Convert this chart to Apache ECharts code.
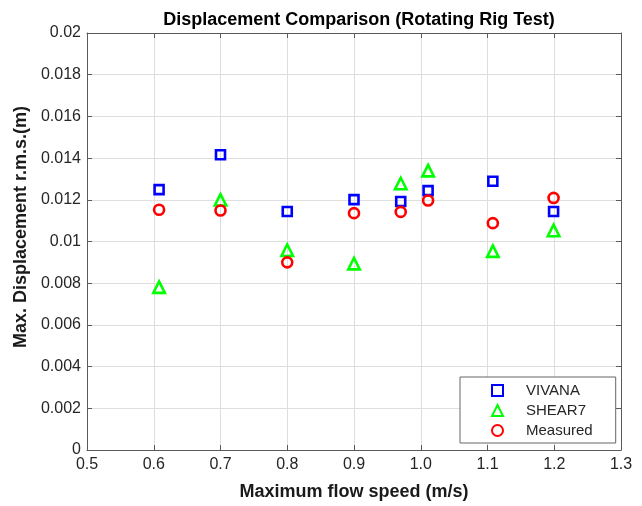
<!DOCTYPE html>
<html>
<head>
<meta charset="utf-8">
<script src="https://cdn.jsdelivr.net/npm/echarts@6/dist/echarts.min.js"></script>
<style>
  html, body { margin: 0; padding: 0; background: #fff; }
  #chart { width: 642px; height: 506px; }
</style>
</head>
<body>
<div id="chart"></div>
<script>
// Flow speeds (m/s) for each test case
const speeds = [0.608, 0.70, 0.80, 0.90, 0.97, 1.011, 1.108, 1.199];

// Max. r.m.s. displacement (m) per method
const vivana   = [0.01249, 0.01416, 0.01144, 0.01201, 0.01192, 0.01244, 0.01289, 0.01144];
const shear7   = [0.00781, 0.01200, 0.00958, 0.00894, 0.01278, 0.01340, 0.00954, 0.01053];
const measured = [0.01152, 0.01149, 0.00900, 0.01136, 0.01142, 0.01197, 0.01088, 0.01209];

const seriesNames = ['VIVANA', 'SHEAR7', 'Measured'];

const pairs = ys => speeds.map((x, i) => [x, ys[i]]);

const axisColor = '#5a5a5a';
const textColor = '#262626';
const fontFamily = '"Liberation Sans", Arial, Helvetica, sans-serif';

const chart = echarts.init(document.getElementById('chart'), null, { renderer: 'canvas' });

function marker(name, data, symbol, size, color) {
  return {
    name: name,
    type: 'scatter',
    data: data,
    symbol: symbol,
    symbolSize: size,
    xAxisIndex: 0,
    yAxisIndex: 0,
    itemStyle: { color: 'rgba(255,255,255,0)', borderColor: color, borderWidth: 2.6, opacity: 1 },
    emphasis: { disabled: true }
  };
}

const boxAxisLine = { show: true, onZero: false, lineStyle: { color: axisColor } };
const boxAxisTick = { show: true, inside: true, length: 5, lineStyle: { color: axisColor } };

const option = {
  animation: false,
  backgroundColor: '#ffffff',
  textStyle: { fontFamily: fontFamily },
  title: {
    text: 'Displacement Comparison (Rotating Rig Test)',
    left: 354,
    textAlign: 'center',
    top: 6,
    textStyle: { fontSize: 18, fontWeight: 'bold', color: '#000', fontFamily: fontFamily }
  },
  grid: { left: 87, right: 21, top: 33, bottom: 53 },
  legend: {
    orient: 'vertical',
    left: 460,
    top: 377,
    data: seriesNames,
    itemWidth: 11,
    itemHeight: 11,
    itemGap: 5,
    padding: [6, 23, 5, 31],
    borderColor: '#666',
    borderWidth: 1,
    backgroundColor: '#fff',
    selectedMode: false,
    textStyle: { fontSize: 15, color: textColor, fontFamily: fontFamily, padding: [0, 0, 0, 18] }
  },
  xAxis: [
    {
      type: 'value', min: 0.5, max: 1.3, interval: 0.1,
      name: 'Maximum flow speed (m/s)', nameLocation: 'middle', nameGap: 33,
      nameTextStyle: { fontSize: 18, fontWeight: 'bold', color: '#1a1a1a' },
      axisLine: boxAxisLine,
      axisTick: boxAxisTick,
      axisLabel: { margin: 7, fontSize: 16, color: textColor, formatter: v => v.toFixed(1) },
      splitLine: { show: true, lineStyle: { color: '#dedede' } }
    },
    {
      type: 'value', position: 'top', min: 0.5, max: 1.3, interval: 0.1,
      axisLine: boxAxisLine,
      axisTick: boxAxisTick,
      axisLabel: { show: false },
      splitLine: { show: false }
    }
  ],
  yAxis: [
    {
      type: 'value', min: 0, max: 0.02, interval: 0.002,
      name: 'Max. Displacement r.m.s.(m)', nameLocation: 'middle', nameGap: 55,
      nameTextStyle: { fontSize: 18, fontWeight: 'bold', color: '#1a1a1a', padding: [0, 0, 0, 29] },
      axisLine: boxAxisLine,
      axisTick: boxAxisTick,
      axisLabel: { margin: 6, fontSize: 16, color: textColor, formatter: v => String(parseFloat(v.toFixed(3))) },
      splitLine: { show: true, lineStyle: { color: '#dedede' } }
    },
    {
      type: 'value', position: 'right', min: 0, max: 0.02, interval: 0.002,
      axisLine: boxAxisLine,
      axisTick: boxAxisTick,
      axisLabel: { show: false },
      splitLine: { show: false }
    }
  ],
  series: [
    marker('VIVANA', pairs(vivana), 'rect', 9, '#0000ff'),
    marker('SHEAR7', pairs(shear7), 'triangle', 11.5, '#00ff00'),
    marker('Measured', pairs(measured), 'circle', 10, '#ff0000')
  ]
};

chart.setOption(option);
</script>
</body>
</html>
